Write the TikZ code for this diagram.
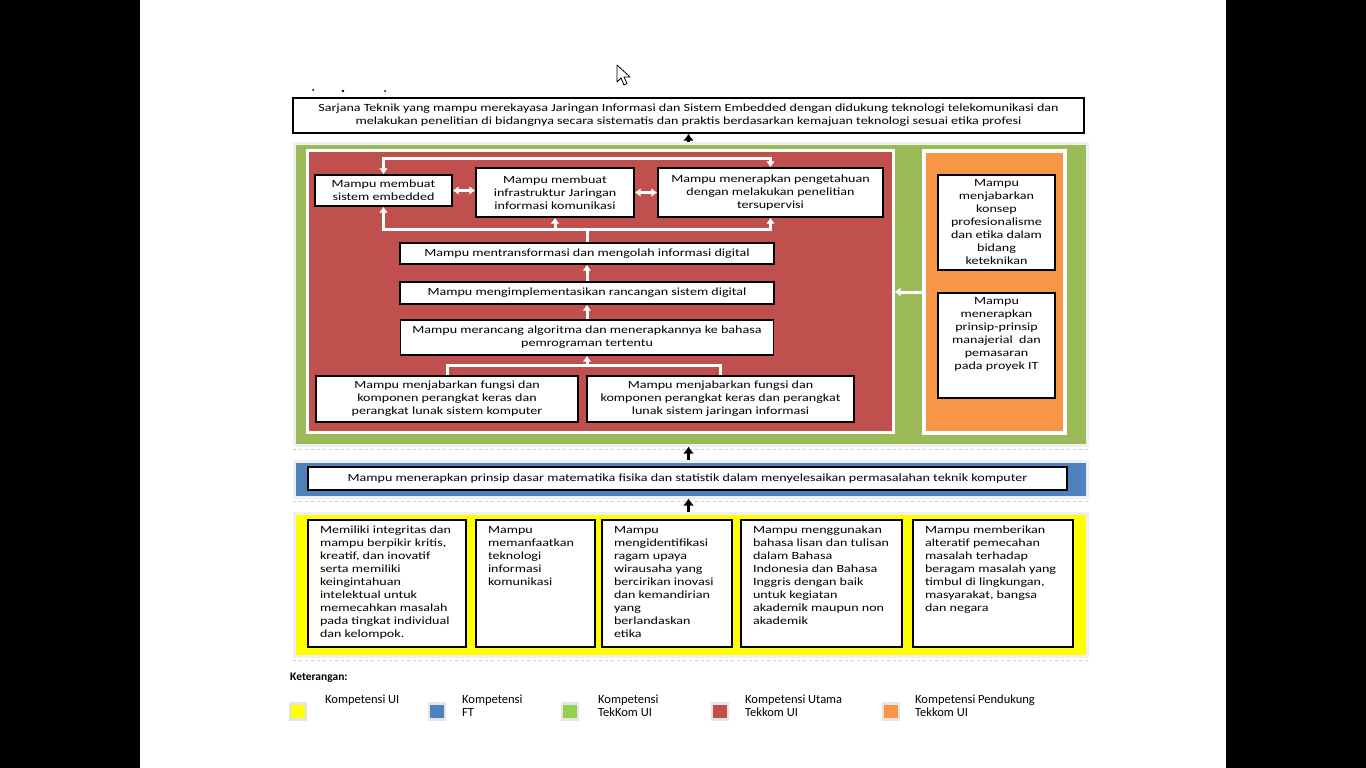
\documentclass[tikz,border=0pt]{standalone}
\usepackage{fontspec}
\setmainfont{Carlito}[FakeStretch=1.28]
\newfontfamily\legfont{Carlito}
\usetikzlibrary{arrows.meta,calc,positioning}

\definecolor{ptgreen}{RGB}{155,187,89}
\definecolor{ptred}{RGB}{192,80,77}
\definecolor{ptorange}{RGB}{247,150,70}
\definecolor{ptblue}{RGB}{79,129,189}
\definecolor{ptyellow}{RGB}{255,255,0}
\definecolor{leggreen}{RGB}{146,208,80}

\newcommand{\boxtext}[3]{\parbox[t][#2][t]{#1}{#3}}

\begin{document}
\begin{tikzpicture}[x=1pt,y=-1pt,
  font=\fontsize{11}{13}\selectfont,
  wh/.style 2 args={minimum width=#1pt,minimum height=#2pt},
  kbox/.style={draw=black,line width=1.4pt,fill=white,align=center,inner sep=0pt},
  ybox/.style={kbox,inner xsep=12pt,inner ysep=6pt},
  panel/.style={line width=3pt,inner sep=0pt},
  shadowline/.style={draw=black!20,dashed,line width=0.7pt},
  wline/.style={draw=white,line width=3pt,>={Latex[length=6pt,width=9pt]}},
  barrow/.style={draw=black,line width=3pt,-{Latex[length=7pt,width=11pt]}},
  legsq/.style={draw=black!10,line width=2.5pt,minimum size=16pt,inner sep=0pt},
  legtext/.style={anchor=north west,inner sep=0pt,align=left,font=\legfont\fontsize{12.5}{13}\selectfont}]

\useasboundingbox (0,0) rectangle (1366,768);
\fill[black] (0,0) rectangle (1366,768);
\fill[white] (140,0) rectangle (1226,768);

% pointer and stray marks
\draw[fill=white,line width=0.8pt,line join=round] (617,65) -- ++(0,17) -- ++(4,-4) -- ++(3,7) -- ++(3,-1.5) -- ++(-3,-6.5) -- ++(6,0) -- cycle;
\fill (313,90) circle (1pt) (343,91) circle (1.3pt) (385,91) circle (1pt);

% top
\node[kbox,wh={791}{35}] (top) at (688.5,115.5) {Sarjana Teknik yang mampu merekayasa Jaringan Informasi dan Sistem Embedded dengan didukung teknologi telekomunikasi dan\\ melakukan penelitian di bidangnya secara sistematis dan praktis berdasarkan kemajuan teknologi sesuai etika profesi};

% panels
\node[panel,draw=black!6,fill=ptgreen,wh={793}{302}] (green) at (690.5,294) {};
\draw[shadowline] ([yshift=-3pt]green.south west) -- ([yshift=-3pt]green.south east);
\node[panel,draw=white,fill=ptred,wh={586}{282}] (red) at (600,291) {};
\node[panel,draw=white,line width=4pt,fill=ptorange,wh={141}{282}] (orange) at (994.5,292) {};
\node[panel,draw=black!6,fill=ptblue,wh={793}{36}] (blue) at (690.5,479) {};
\draw[shadowline] ([yshift=-3pt]blue.south west) -- ([yshift=-3pt]blue.south east);
\node[panel,draw=black!6,fill=ptyellow,wh={793}{143}] (yellow) at (690.5,584.5) {};
\draw[shadowline] ([yshift=-3pt]yellow.south west) -- ([yshift=-3pt]yellow.south east);

% red panel
\node[kbox,wh={137}{31}] (b1) at (383.5,190.5) {Mampu membuat\\ sistem embedded};
\node[kbox,wh={158}{49}] (b2) at (555,192.5) {Mampu membuat\\ infrastruktur Jaringan\\ informasi komunikasi};
\node[kbox,wh={225}{49}] (b3) at (770.5,192.5) {Mampu menerapkan pengetahuan\\ dengan melakukan penelitian\\ tersupervisi};
\node[kbox,wh={374}{21}] (b4) at (587,253.5) {Mampu mentransformasi dan mengolah informasi digital};
\node[kbox,wh={374}{22}] (b5) at (587,293) {Mampu mengimplementasikan rancangan sistem digital};
\node[kbox,wh={373}{35}] (b6) at (587,337.5) {Mampu merancang algoritma dan menerapkannya ke bahasa\\ pemrograman tertentu};
\node[kbox,wh={262}{46}] (b7) at (447,399) {Mampu menjabarkan fungsi dan\\ komponen perangkat keras dan\\ perangkat lunak sistem komputer};
\node[kbox,wh={267}{46}] (b8) at (720.5,399) {Mampu menjabarkan fungsi dan\\ komponen perangkat keras dan perangkat\\ lunak sistem jaringan informasi};

\draw[wline,<->] (b1.north) -- ++(0,-16) -| (b3.north);
\draw[wline,<->] (b1.east) -- (b1.east -| b2.west);
\draw[wline,<->] (b2.east) -- (b2.east -| b3.west);
\draw[wline] (b4.north) -- ++(0,-13) coordinate (fan);
\draw[wline,->] (fan) -| (b1.south);
\draw[wline,->] (fan) -| (b2.south);
\draw[wline,->] (fan) -| (b3.south);
\draw[wline,->] (b5.north) -- (b4.south);
\draw[wline,->] (b6.north) -- (b5.south);
\draw[wline] (b7.north) -- ++(0,-10) coordinate (join) -| (b8.north);
\draw[wline,->] (join -| b6.south) -- (b6.south);

% orange panel
\node[kbox,wh={117}{95}] (o1) at (996.5,222.5) {Mampu\\ menjabarkan\\ konsep\\ profesionalisme\\ dan etika dalam\\ bidang\\ keteknikan};
\node[kbox,inner ysep=4pt] (o2) at (996.5,345.5) {\boxtext{117pt}{97pt}{\centering Mampu\\ menerapkan\\ prinsip-prinsip\\ manajerial~ dan\\ pemasaran\\ pada proyek IT}};
\draw[wline,->] (orange.west) -- (orange.west -| red.east);

% blue panel
\node[kbox,wh={759}{23}] (fisika) at (687.5,478.5) {Mampu menerapkan prinsip dasar matematika fisika dan statistik dalam menyelesaikan permasalahan teknik komputer};

% yellow panel
\node[ybox] (y1) at (387,583.5) {\boxtext{134pt}{115pt}{\raggedright Memiliki integritas dan\\ mampu berpikir kritis,\\ kreatif, dan inovatif\\ serta memiliki\\ keingintahuan\\ intelektual untuk\\ memecahkan masalah\\ pada tingkat individual\\ dan kelompok.}};
\node[ybox] (y2) at (535.5,583.5) {\boxtext{95pt}{115pt}{\raggedright Mampu\\ memanfaatkan\\ teknologi\\ informasi\\ komunikasi}};
\node[ybox] (y3) at (667,583.5) {\boxtext{106pt}{115pt}{\raggedright Mampu\\ mengidentifikasi\\ ragam upaya\\ wirausaha yang\\ bercirikan inovasi\\ dan kemandirian\\ yang\\ berlandaskan\\ etika}};
\node[ybox] (y4) at (821.5,583.5) {\boxtext{137pt}{115pt}{\raggedright Mampu menggunakan\\ bahasa lisan dan tulisan\\ dalam Bahasa\\ Indonesia dan Bahasa\\ Inggris dengan baik\\ untuk kegiatan\\ akademik maupun non\\ akademik}};
\node[ybox] (y5) at (993,583.5) {\boxtext{136pt}{115pt}{\raggedright Mampu memberikan\\ alteratif pemecahan\\ masalah terhadap\\ beragam masalah yang\\ timbul di lingkungan,\\ masyarakat, bangsa\\ dan negara}};

% black arrows between levels
\draw[barrow] (green.north -| top.south) -- (top.south);
\draw[barrow] (blue.north -| top.south) -- (green.south -| top.south);
\draw[barrow] (yellow.north -| top.south) -- (blue.south -| top.south);

% legend
\node[anchor=west,inner sep=0pt,font=\legfont\bfseries\fontsize{11.5}{12}\selectfont] (keterangan) at (290,678) {Keterangan:};
\node[legsq,fill=ptyellow] (lui) at (298,711.5) {};
\node[legtext] (tui) at (325,695) {Kompetensi UI};
\node[legsq,fill=ptblue] (lft) at (437,711.5) {};
\node[legtext] (tft) at (462,695) {Kompetensi\\ FT};
\node[legsq,fill=leggreen] (ltk) at (570,711.5) {};
\node[legtext] (ttk) at (598,695) {Kompetensi\\ TekKom UI};
\node[legsq,fill=ptred] (lut) at (720,711.5) {};
\node[legtext] (tut) at (745,695) {Kompetensi Utama\\ Tekkom UI};
\node[legsq,fill=ptorange] (lpd) at (891,711.5) {};
\node[legtext] (tpd) at (915,695) {Kompetensi Pendukung\\ Tekkom UI};
\end{tikzpicture}
\end{document}
